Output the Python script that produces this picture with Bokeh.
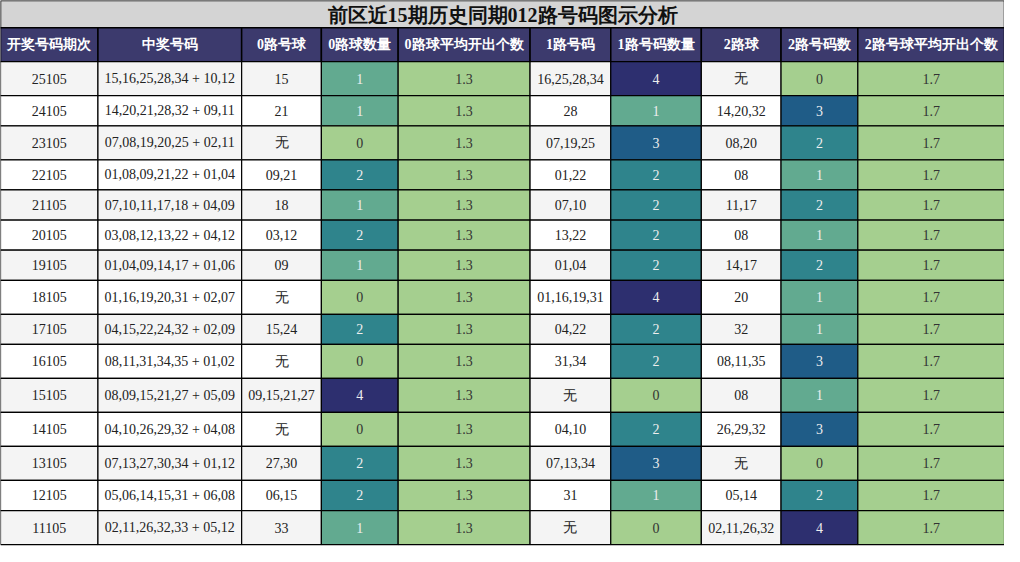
from bokeh.core.properties import value
from bokeh.embed import file_html
from bokeh.models import ColumnDataSource, Range1d
from bokeh.plotting import figure
from bokeh.resources import INLINE

title = "前区近15期历史同期012路号码图示分析"
headers = ["开奖号码期次", "中奖号码", "0路号球", "0路球数量", "0路球平均开出个数",
           "1路号码", "1路号码数量", "2路球", "2路号码数", "2路号球平均开出个数"]

periods = ["25105", "24105", "23105", "22105", "21105", "20105", "19105", "18105",
           "17105", "16105", "15105", "14105", "13105", "12105", "11105"]
draws = ["15,16,25,28,34 + 10,12", "14,20,21,28,32 + 09,11", "07,08,19,20,25 + 02,11",
         "01,08,09,21,22 + 01,04", "07,10,11,17,18 + 04,09", "03,08,12,13,22 + 04,12",
         "01,04,09,14,17 + 01,06", "01,16,19,20,31 + 02,07", "04,15,22,24,32 + 02,09",
         "08,11,31,34,35 + 01,02", "08,09,15,21,27 + 05,09", "04,10,26,29,32 + 04,08",
         "07,13,27,30,34 + 01,12", "05,06,14,15,31 + 06,08", "02,11,26,32,33 + 05,12"]
zero_balls = ["15", "21", "无", "09,21", "18", "03,12", "09", "无", "15,24", "无",
              "09,15,21,27", "无", "27,30", "06,15", "33"]
zero_counts = [1, 1, 0, 2, 1, 2, 1, 0, 2, 0, 4, 0, 2, 2, 1]
zero_avg = 1.3
one_balls = ["16,25,28,34", "28", "07,19,25", "01,22", "07,10", "13,22", "01,04",
             "01,16,19,31", "04,22", "31,34", "无", "04,10", "07,13,34", "31", "无"]
one_counts = [4, 1, 3, 2, 2, 2, 2, 4, 2, 2, 0, 2, 3, 1, 0]
two_balls = ["无", "14,20,32", "08,20", "08", "11,17", "08", "14,17", "20", "32",
             "08,11,35", "08", "26,29,32", "无", "05,14", "02,11,26,32"]
two_counts = [0, 3, 2, 1, 2, 1, 2, 1, 1, 3, 1, 3, 0, 2, 4]
two_avg = 1.7

# layout (pixels of the original picture)
col_edges = [0, 99, 245, 326, 404, 538, 620, 712, 793, 871, 1020]
TITLE_H, HEAD_H, ROW_H, ROW_H_WU = 28, 35, 31, 35
W, H = 1020, 562

count_colors = {0: "#a5cf8f", 1: "#62aa90", 2: "#2f848c", 3: "#1f5c87", 4: "#2d2f6f"}
count_text = {0: "#333333", 1: "#eeeeee", 2: "#eeeeee", 3: "#eeeeee", 4: "#eeeeee"}
avg_color = "#a5cf8f"
header_color = "#3c3a6d"
title_color = "#d4d4d4"
stripe = ["#f4f4f4", "#ffffff"]

cells = dict(left=[], right=[], top=[], bottom=[], fill=[], text=[], color=[])


def add(l, r, t, b, fill, text, color):
    cells["left"].append(l)
    cells["right"].append(r)
    cells["top"].append(t)
    cells["bottom"].append(b)
    cells["fill"].append(fill)
    cells["text"].append(text)
    cells["color"].append(color)


y = TITLE_H + HEAD_H
for i in range(len(periods)):
    row = [periods[i], draws[i], zero_balls[i], zero_counts[i], zero_avg,
           one_balls[i], one_counts[i], two_balls[i], two_counts[i], two_avg]
    # rows holding a "无" come out a little taller in the original
    h = ROW_H_WU if "无" in (zero_balls[i], one_balls[i], two_balls[i]) else ROW_H
    base = stripe[i % 2]
    for j, v in enumerate(row):
        l, r = col_edges[j], col_edges[j + 1]
        if j in (3, 6, 8):
            add(l, r, y, y + h, count_colors[v], str(v), count_text[v])
        elif j in (4, 9):
            add(l, r, y, y + h, avg_color, str(v), "#333333")
        else:
            add(l, r, y, y + h, base, v, "#222222")
    y += h

cells["xc"] = [(a + b) / 2 for a, b in zip(cells["left"], cells["right"])]
cells["yc"] = [(a + b) / 2 for a, b in zip(cells["top"], cells["bottom"])]
src = ColumnDataSource(cells)

hsrc = ColumnDataSource(dict(
    left=col_edges[:-1], right=col_edges[1:],
    top=[TITLE_H] * len(headers), bottom=[TITLE_H + HEAD_H] * len(headers),
    xc=[(a + b) / 2 for a, b in zip(col_edges[:-1], col_edges[1:])],
    yc=[TITLE_H + HEAD_H / 2] * len(headers), text=headers))

p = figure(width=1004, height=546, output_backend="svg", toolbar_location=None,
           x_range=Range1d(0, W), y_range=Range1d(H, 0), min_border=0)
p.axis.visible = False
p.grid.visible = False
p.outline_line_color = None
p.background_fill_color = "white"

# title bar
p.quad(left=[0], right=[W], top=[0], bottom=[TITLE_H], fill_color=title_color,
       line_color="black", line_width=1.5)
p.text(x=[W / 2], y=[TITLE_H / 2 + 1], text=[title], text_align="center",
       text_baseline="middle", text_font=value("Liberation Serif"),
       text_font_style="bold", text_font_size="20px", text_color="#111111")

# header
p.quad(left="left", right="right", top="top", bottom="bottom", source=hsrc,
       fill_color=header_color, line_color="black", line_width=1.5)
p.text(x="xc", y="yc", text="text", source=hsrc, text_align="center",
       text_baseline="middle", text_font=value("Liberation Serif"),
       text_font_style="bold", text_font_size="14px", text_color="white")

# body
p.quad(left="left", right="right", top="top", bottom="bottom", source=src,
       fill_color="fill", line_color="black", line_width=1.2)
p.text(x="xc", y="yc", text="text", source=src, text_align="center",
       text_baseline="middle", text_font=value("Liberation Serif"),
       text_font_size="14px", text_color="color")

open("out.html", "w").write(file_html(p, INLINE))
